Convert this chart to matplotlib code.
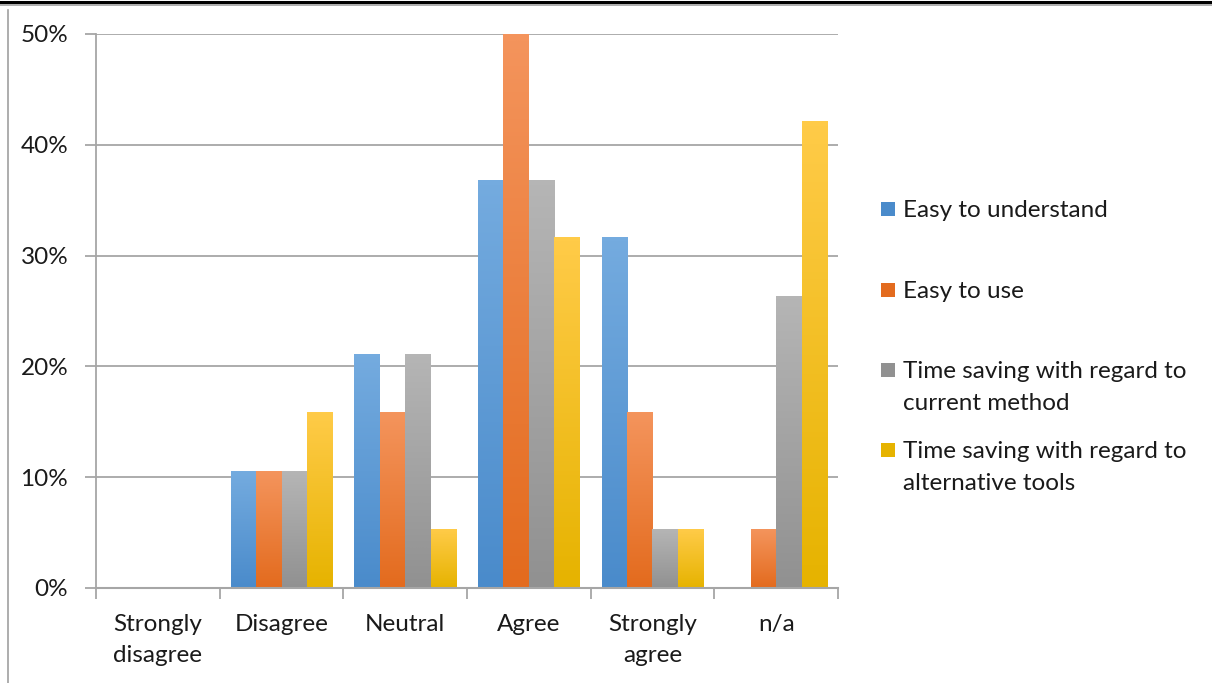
import matplotlib
matplotlib.use("Agg")
import matplotlib.pyplot as plt
import numpy as np
from matplotlib.colors import LinearSegmentedColormap
from matplotlib.lines import Line2D
from matplotlib.patches import Rectangle

categories = ["Strongly\ndisagree", "Disagree", "Neutral", "Agree", "Strongly\nagree", "n/a"]
series_names = ["Easy to understand", "Easy to use",
                "Time saving with regard to\ncurrent method",
                "Time saving with regard to\nalternative tools"]
easy_understand = [0.0, 10.5, 21.1, 36.8, 31.6, 0.0]
easy_use = [0.0, 10.5, 15.8, 50.0, 15.8, 5.3]
time_current = [0.0, 10.5, 21.1, 36.8, 5.3, 26.3]
time_alternative = [0.0, 15.8, 5.3, 31.6, 5.3, 42.1]
y_ticks = [0, 10, 20, 30, 40, 50]
y_tick_labels = ["0%", "10%", "20%", "30%", "40%", "50%"]

series = [easy_understand, easy_use, time_current, time_alternative]
tops = ["#74ABDF", "#F4945C", "#B5B5B5", "#FFCB48"]
bottoms = ["#4A8BCB", "#E36B1E", "#919191", "#E6B300"]

plt.rcParams['font.family'] = ['Lato', 'DejaVu Sans']
FS = 17.5

W, H = 1212, 683
fig = plt.figure(figsize=(W / 100, H / 100), dpi=100)
ax = fig.add_axes([96 / W, 1 - 588 / H, (838 - 96) / W, (588 - 34) / H])

n = len(categories)
x = np.arange(n)
bw = 0.206
grad = np.linspace(0, 1, 64).reshape(-1, 1)
for i, vals in enumerate(series):
    offs = (i - 1.5) * bw
    bars = ax.bar(x + offs, vals, width=bw, color=bottoms[i], linewidth=0, zorder=2)
    cmap = LinearSegmentedColormap.from_list("g%d" % i, [bottoms[i], tops[i]])
    for b in bars:
        h = b.get_height()
        if h <= 0:
            continue
        x0 = b.get_x()
        ax.imshow(grad, extent=[x0, x0 + b.get_width(), 0, h], origin="lower",
                  cmap=cmap, aspect="auto", zorder=3, interpolation="bilinear")

ax.set_xlim(-0.5, n - 0.5)
ax.set_ylim(0, 50)
ax.set_yticks(y_ticks)
ax.set_yticklabels(y_tick_labels)
ax.yaxis.grid(True, color="#A6A6A6", linewidth=1.3, zorder=0)
ax.set_axisbelow(True)
for s in ["top", "right"]:
    ax.spines[s].set_visible(False)
ax.spines["left"].set_color("#A6A6A6")
ax.spines["left"].set_linewidth(1.3)
ax.spines["bottom"].set_color("#A6A6A6")
ax.spines["bottom"].set_linewidth(1.5)
ax.spines["bottom"].set_zorder(5)

ax.set_xticks(x)
ax.set_xticklabels(categories, fontsize=FS, color="#1a1a1a", linespacing=1.55)
ax.tick_params(axis="x", which="major", length=0, pad=19)
ax.set_xticks(np.arange(n + 1) - 0.5, minor=True)
ax.tick_params(axis="x", which="minor", length=8, width=1.3, color="#A6A6A6", direction="out")
ax.tick_params(axis="y", length=8, width=1.3, color="#A6A6A6", direction="out",
               pad=12, labelsize=FS, labelcolor="#1a1a1a")

# Legend drawn manually
leg_y = [209, 290, 370, 450]
for i, name in enumerate(series_names):
    yc = 1 - leg_y[i] / H
    fig.patches.append(Rectangle((881 / W, yc - 7 / H), 14 / W, 14 / H,
                                 transform=fig.transFigure, facecolor=bottoms[i],
                                 edgecolor="none"))
    fig.text(903 / W, 1 - (leg_y[i] - 9) / H, name, fontsize=FS, color="#1a1a1a",
             va="top", ha="left", linespacing=1.62)

# page frame
fig.add_artist(Line2D([0, 1], [1 - 1.5 / H, 1 - 1.5 / H], color="black", linewidth=2.2,
                      transform=fig.transFigure))
fig.add_artist(Line2D([0, 1], [1 - 5 / H, 1 - 5 / H], color="#A0A0A0", linewidth=1.2,
                      transform=fig.transFigure))
fig.add_artist(Line2D([8 / W, 8 / W], [0, 1 - 10 / H], color="#A0A0A0", linewidth=1.2,
                      transform=fig.transFigure))

fig.savefig("out.png", dpi=100)
